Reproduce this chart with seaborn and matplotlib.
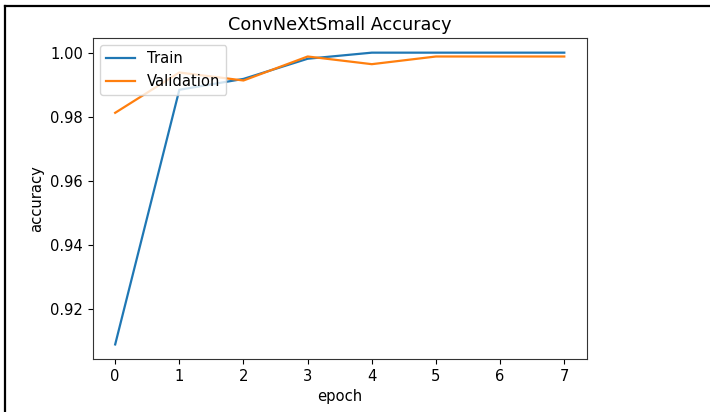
import matplotlib
matplotlib.use("Agg")

import numpy as np
import pandas as pd

import matplotlib.pyplot as plt
from matplotlib.lines import Line2D
import seaborn as sns


# =========================================
# DATA
# =========================================

epochs = [0, 1, 2, 3, 4, 5, 6, 7]

train_acc = [0.9088, 0.9884, 0.9918, 0.9981, 1.0000, 1.0000, 1.0000, 1.0000]

val_acc = [0.9812, 0.9938, 0.9913, 0.9988, 0.9964, 0.9988, 0.9988, 0.9988]

series_names = ["Train", "Validation"]

series_colors = ["#1f77b4", "#ff7f0e"]


# =========================================
# PLOT
# =========================================

fig = plt.figure(figsize=(7.10, 4.12), dpi=100)

ax = fig.add_axes([0.1306, 0.1286, 0.6958, 0.7790])

sns.lineplot(
    x=epochs,
    y=train_acc,
    label=series_names[0],
    color=series_colors[0],
    linewidth=1.6,
    ax=ax
)

sns.lineplot(
    x=epochs,
    y=val_acc,
    label=series_names[1],
    color=series_colors[1],
    linewidth=1.6,
    ax=ax
)

ax.set_title("ConvNeXtSmall Accuracy", fontsize=12.7)

ax.set_xlabel("epoch", fontsize=10.6)

ax.set_ylabel("accuracy", fontsize=10.6)

ax.set_xticks(epochs)

ax.set_yticks([0.92, 0.94, 0.96, 0.98, 1.00])

ax.set_yticklabels(["0.92", "0.94", "0.96", "0.98", "1.00"])

ax.tick_params(labelsize=10.6)

for spine in ax.spines.values():
    spine.set_color("#333333")

ax.legend(loc="upper left", fontsize=10.6)

# screenshot frame (top and left edges)
fig.add_artist(Line2D([4.5 / 710, 1.0], [1 - 5.5 / 412, 1 - 5.5 / 412],
                      color="black", linewidth=1.6, transform=fig.transFigure))
fig.add_artist(Line2D([4.5 / 710, 4.5 / 710], [0.0, 1 - 5.5 / 412],
                      color="black", linewidth=1.6, transform=fig.transFigure))

fig.savefig("out.png", dpi=100)
